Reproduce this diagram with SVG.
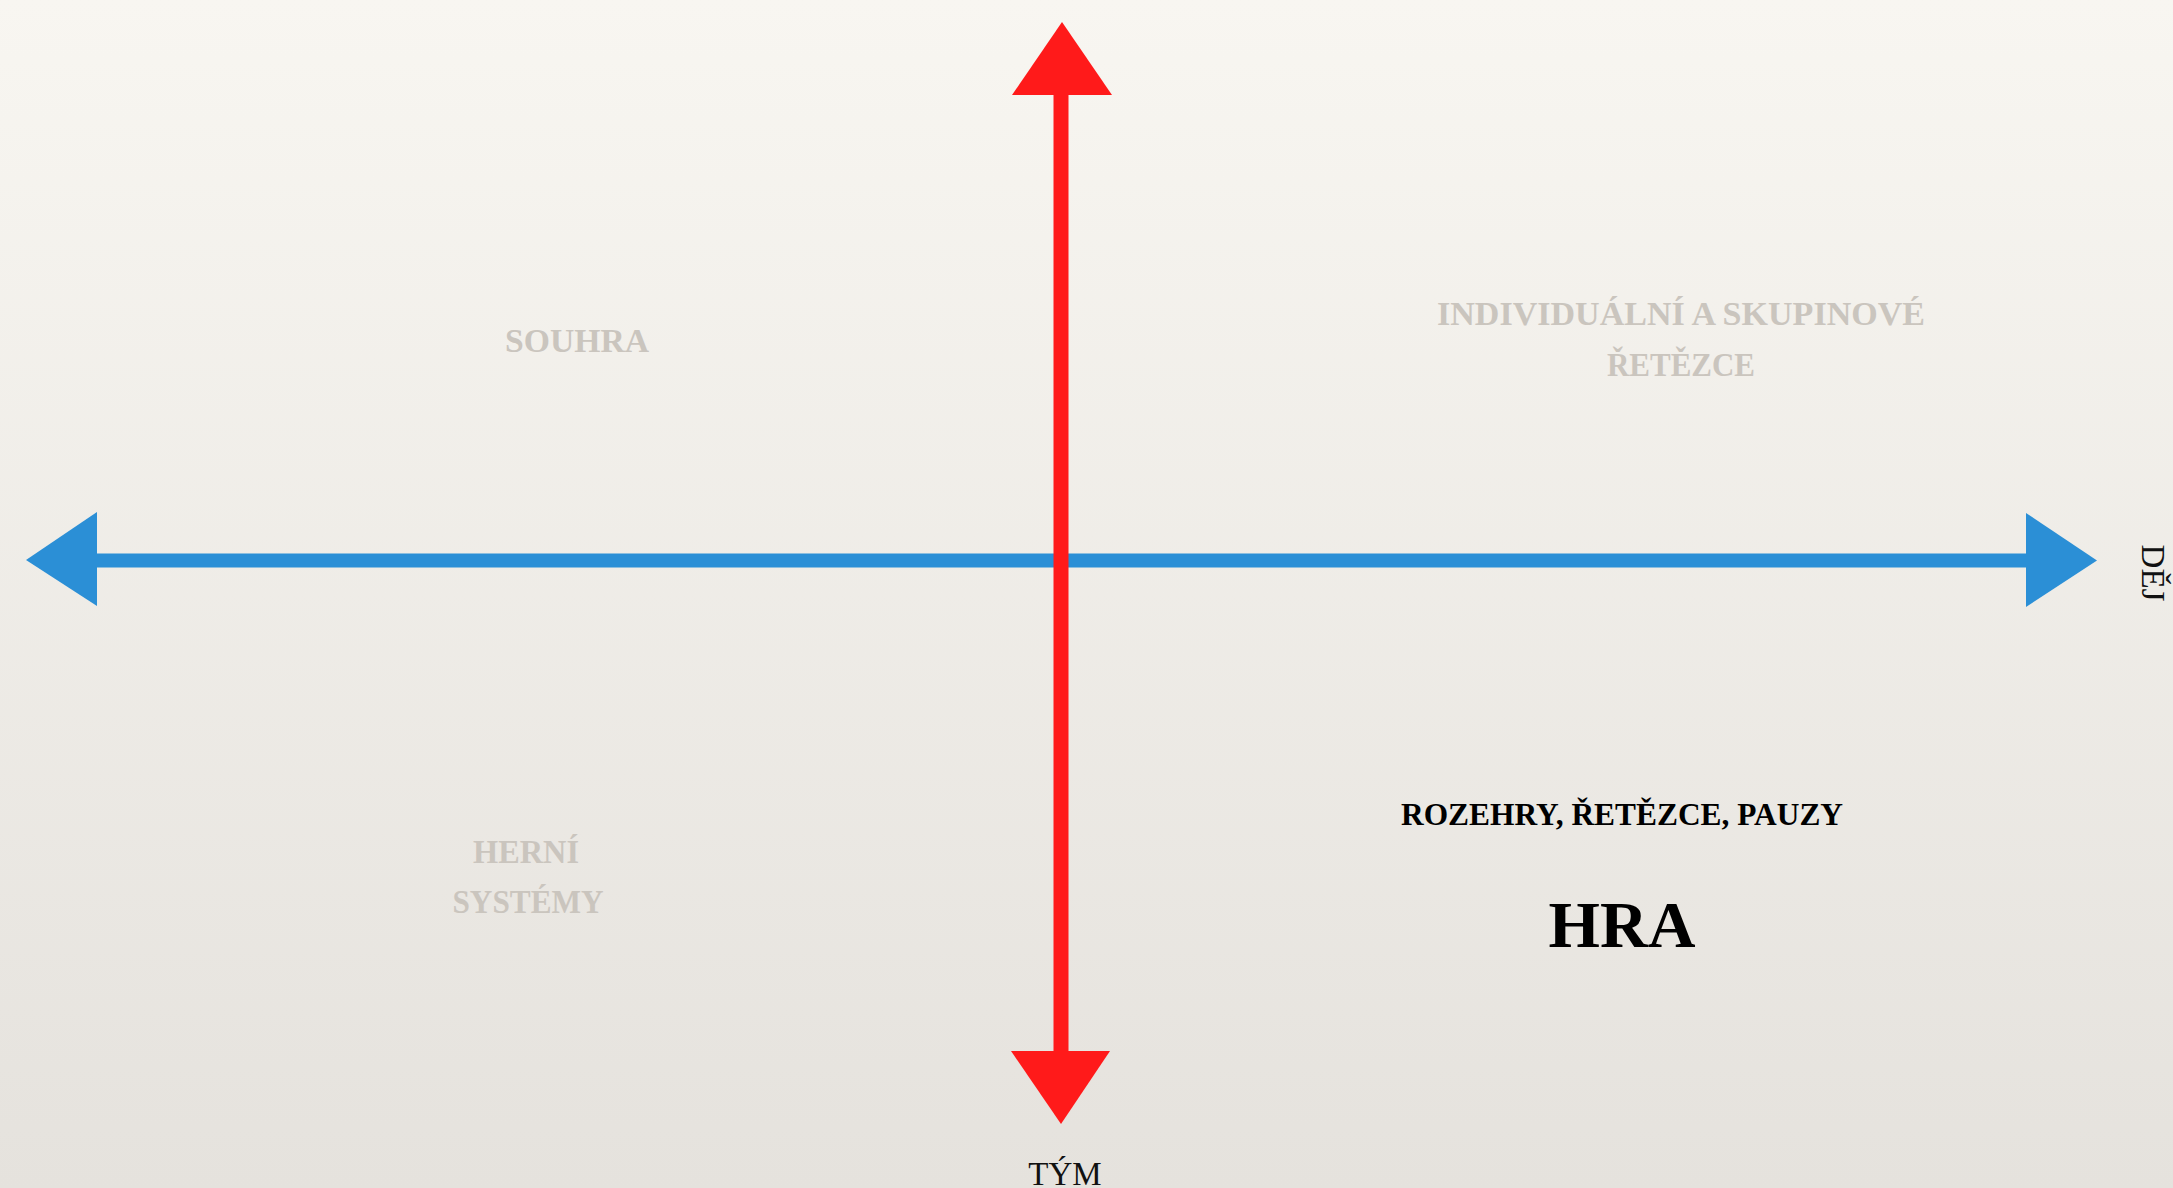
<svg xmlns="http://www.w3.org/2000/svg" width="2173" height="1188" viewBox="0 0 2173 1188">
<defs>
<linearGradient id="bg" x1="0" y1="0" x2="0" y2="1">
<stop offset="0" stop-color="#F8F6F1"/>
<stop offset="1" stop-color="#E5E2DD"/>
</linearGradient>
<style>
.lbl{font-family:"Liberation Serif","Times New Roman",serif;font-weight:bold;text-anchor:middle;}
.gray{fill:#CAC5BE;font-size:33px;}
.axis{font-family:"Liberation Serif","Times New Roman",serif;font-size:33px;fill:#111;text-anchor:middle;}
</style>
</defs>
<rect width="2173" height="1188" fill="url(#bg)"/>
<g id="connectors">
<g id="axis-horizontal" fill="#2B8FD6">
<rect x="90" y="553.5" width="1945" height="14"/>
<polygon points="26,560 97,512 97,606"/>
<polygon points="2097,560.5 2026,513 2026,607"/>
</g>
<g id="axis-vertical" fill="#FF1A1A">
<rect x="1053.5" y="90" width="15" height="970"/>
<polygon points="1062,22 1012,95 1112,95"/>
<polygon points="1061,1124 1011,1051 1110,1051"/>
</g>
</g>
<g id="label-dej"><text class="axis" x="2142" y="573" transform="rotate(90 2142 573)">DĚJ</text></g>
<g id="label-tym"><text class="axis" x="1065" y="1185">TÝM</text></g>
<g id="node-souhra"><text class="lbl gray" x="577" y="352" textLength="144" lengthAdjust="spacingAndGlyphs">SOUHRA</text></g>
<g id="node-individualni"><text class="lbl gray" x="1681" y="325" textLength="488" lengthAdjust="spacingAndGlyphs">INDIVIDUÁLNÍ A SKUPINOVÉ</text><text class="lbl gray" x="1681" y="376" textLength="148" lengthAdjust="spacingAndGlyphs">ŘETĚZCE</text></g>
<g id="node-herni"><text class="lbl gray" x="526" y="863" textLength="106" lengthAdjust="spacingAndGlyphs">HERNÍ</text><text class="lbl gray" x="528" y="913" textLength="151" lengthAdjust="spacingAndGlyphs">SYSTÉMY</text></g>
<g id="node-hra"><text class="lbl" x="1622" y="825" font-size="31" fill="#000" textLength="442" lengthAdjust="spacingAndGlyphs">ROZEHRY, ŘETĚZCE, PAUZY</text><text class="lbl" x="1622" y="947" font-size="66" fill="#000" textLength="147" lengthAdjust="spacingAndGlyphs">HRA</text></g>
</svg>
